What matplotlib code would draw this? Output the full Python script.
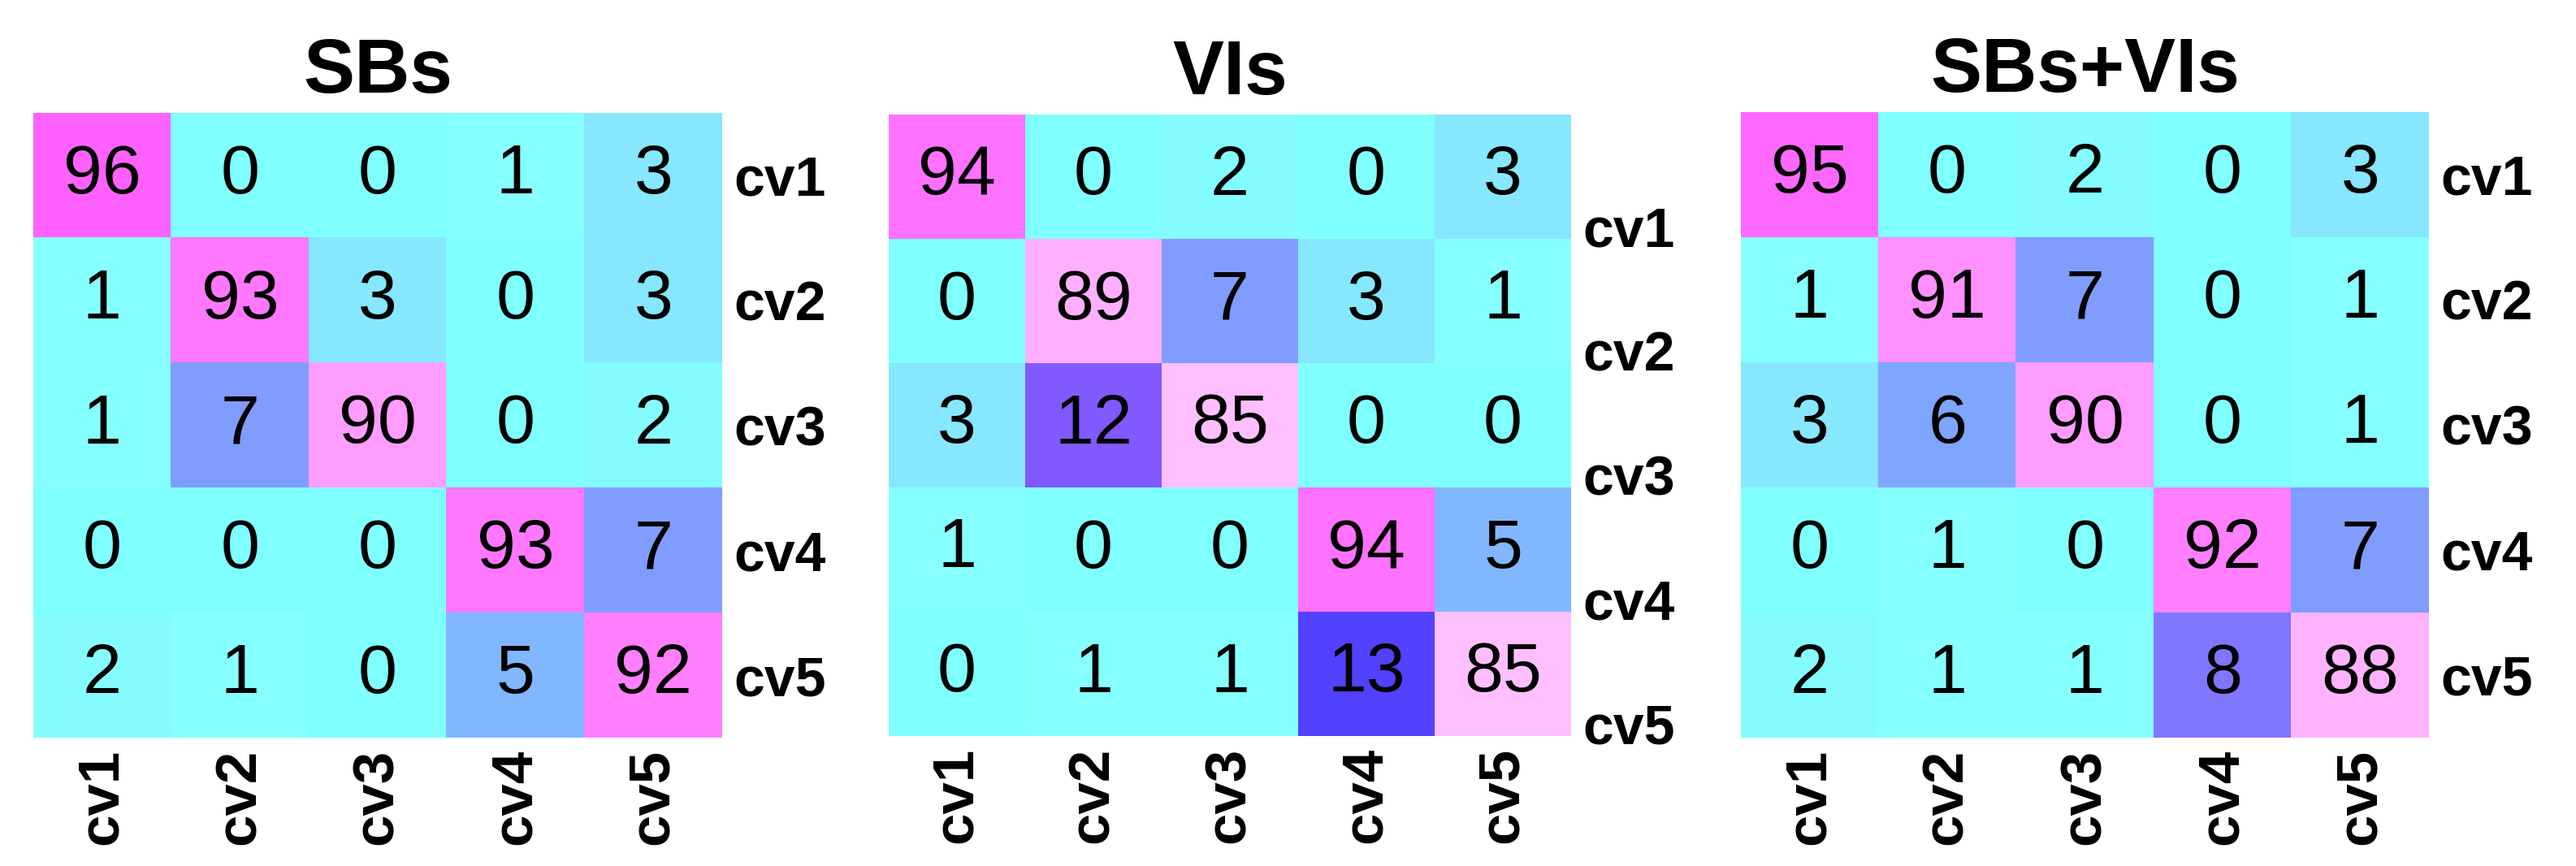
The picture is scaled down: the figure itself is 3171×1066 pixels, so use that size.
import matplotlib
matplotlib.use("Agg")
import matplotlib.pyplot as plt
import numpy as np
from matplotlib.colors import LinearSegmentedColormap, Normalize

plt.rcParams['font.family'] = ['Liberation Sans', 'DejaVu Sans']

labels = ["cv1", "cv2", "cv3", "cv4", "cv5"]
titles = ["SBs", "VIs", "SBs+VIs"]

sbs = [[96, 0, 0, 1, 3],
       [1, 93, 3, 0, 3],
       [1, 7, 90, 0, 2],
       [0, 0, 0, 93, 7],
       [2, 1, 0, 5, 92]]
vis = [[94, 0, 2, 0, 3],
       [0, 89, 7, 3, 1],
       [3, 12, 85, 0, 0],
       [1, 0, 0, 94, 5],
       [0, 1, 1, 13, 85]]
both = [[95, 0, 2, 0, 3],
        [1, 91, 7, 0, 1],
        [3, 6, 90, 0, 1],
        [0, 1, 0, 92, 7],
        [2, 1, 1, 8, 88]]
matrices = [sbs, vis, both]

# colormap anchor points (value, color)
anchors = [(0, "#80ffff"), (1, "#88ffff"), (2, "#84fcff"), (3, "#88e0ff"),
           (5, "#80b0ff"), (7, "#8098ff"), (8, "#8070ff"), (12, "#8058ff"),
           (13, "#5040ff"), (50, "#c0a0ff"), (85, "#ffc0ff"), (89, "#ffb0ff"),
           (90, "#ffa0ff"), (92, "#ff80ff"), (94, "#ff74ff"), (96, "#ff62ff"),
           (100, "#ff40ff")]
cmap = LinearSegmentedColormap.from_list("cm", [(v / 100, c) for v, c in anchors])
norm = Normalize(0, 100)

W, H = 3171, 1066
fig = plt.figure(figsize=(W / 100, H / 100), dpi=100)

panel_px = [(41, 139, 889, 908), (1094, 141, 1934, 906), (2143, 138, 2990, 908)]
label_shift = [0.0, 0.4, 0.0]

for k, (x0, y0, x1, y1) in enumerate(panel_px):
    ax = fig.add_axes([x0 / W, 1 - y1 / H, (x1 - x0) / W, (y1 - y0) / H])
    data = np.array(matrices[k])
    ax.imshow(data, cmap=cmap, norm=norm, aspect="auto", interpolation="nearest")
    for i in range(5):
        for j in range(5):
            ax.text(j, i, str(data[i, j]), ha="center", va="center",
                    fontsize=62, color="black")
    ax.set_xticks(range(5))
    ax.set_xticklabels(labels, rotation=90, fontsize=51, fontweight="bold",
                       va="top")
    ax.set_yticks(np.arange(5) + label_shift[k])
    ax.set_yticklabels(labels, fontsize=49, fontweight="bold")
    ax.yaxis.tick_right()
    ax.tick_params(axis="both", length=0, pad=10)
    ax.set_ylim(4.5, -0.5)
    for s in ax.spines.values():
        s.set_visible(False)
    ax.set_title(titles[k], fontsize=68, fontweight="bold", pad=18)

fig.savefig("out.png", dpi=100)
